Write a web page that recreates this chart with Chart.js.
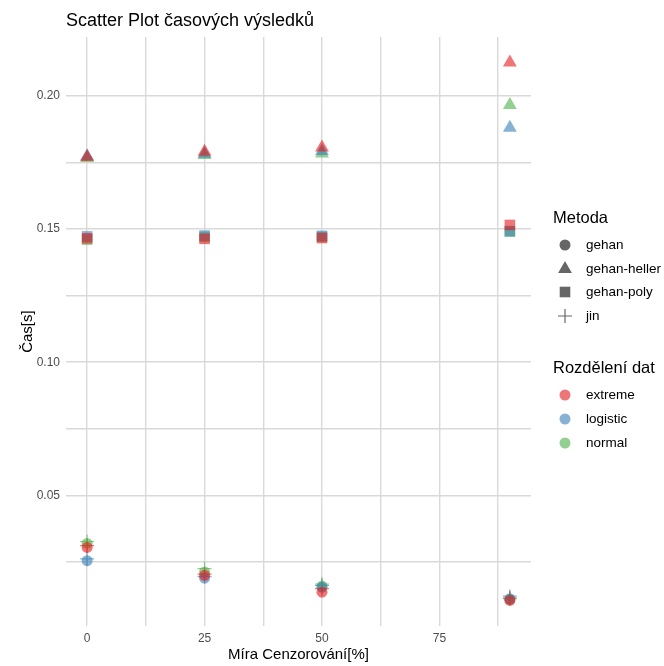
<!DOCTYPE html>
<html>
<head>
<meta charset="utf-8">
<title>Scatter Plot časových výsledků</title>
<script src="https://cdn.jsdelivr.net/npm/chart.js@4/dist/chart.umd.min.js"></script>
<style>
  html, body { margin: 0; padding: 0; background: #fff; }
  #wrap { width: 664px; height: 666px; }
</style>
</head>
<body>
<div id="wrap"><canvas id="scatterChart" width="664" height="666"></canvas></div>
<script>
// Míra cenzorování (%)
const censorLevels = [0, 25, 50, 90];

const methods = ['gehan', 'gehan-heller', 'gehan-poly', 'jin'];
const methodStyles = ['circle', 'triangle', 'rect', 'cross'];
const distributions = ['extreme', 'logistic', 'normal'];
const distColors = ['228, 26, 28', '55, 126, 184', '77, 175, 74'];

// časy [s] pro jednotlivé metody a rozdělení
const gehanExtreme = [0.0305, 0.0200, 0.0137, 0.0106];
const gehanLogistic = [0.0255, 0.0190, 0.0155, 0.0112];
const gehanNormal = [0.0320, 0.0213, 0.0160, 0.0110];

const hellerExtreme = [0.1770, 0.1790, 0.1806, 0.2125];
const hellerLogistic = [0.1773, 0.1782, 0.1793, 0.1880];
const hellerNormal = [0.1766, 0.1778, 0.1783, 0.1965];

const polyExtreme = [0.1465, 0.1463, 0.1466, 0.1515];
const polyLogistic = [0.1472, 0.1475, 0.1474, 0.1492];
const polyNormal = [0.1460, 0.1470, 0.1470, 0.1490];

const jinExtreme = [0.0312, 0.0205, 0.0150, 0.0115];
const jinLogistic = [0.0262, 0.0195, 0.0162, 0.0122];
const jinNormal = [0.0327, 0.0225, 0.0167, 0.0113];

// osy
const xBreaks = [0, 25, 50, 75];
const xLabels = ['0', '25', '50', '75'];
const xMinorBreaks = [12.5, 37.5, 62.5, 87.5];
const yBreaks = [0.05, 0.10, 0.15, 0.20];
const yLabels = ['0.05', '0.10', '0.15', '0.20'];
const yMinorBreaks = [0.025, 0.075, 0.125, 0.175];

const FONT = "'Liberation Sans', Arial, Helvetica, sans-serif";
const ALPHA = 0.6;

const seriesTable = [
    [gehanExtreme, gehanLogistic, gehanNormal],
    [hellerExtreme, hellerLogistic, hellerNormal],
    [polyExtreme, polyLogistic, polyNormal],
    [jinExtreme, jinLogistic, jinNormal]
];

const pointSizes = { circle: 5.5, triangle: 8, rect: 7.5, cross: 7 };

const datasets = [];
methods.forEach((m, mi) => {
    distributions.forEach((d, di) => {
        const style = methodStyles[mi];
        const col = `rgba(${distColors[di]}, ${ALPHA})`;
        const isCross = style === 'cross';
        datasets.push({
            label: m + ' / ' + d,
            data: censorLevels.map((x, i) => ({ x: x, y: seriesTable[mi][di][i] })),
            pointStyle: style,
            pointRadius: pointSizes[style],
            backgroundColor: isCross ? 'rgba(0,0,0,0)' : col,
            borderColor: col,
            borderWidth: isCross ? 1.2 : 0,
            showLine: false
        });
    });
});

// legenda vpravo (dvě skupiny jako v ggplot)
const legendPlugin = {
    id: 'ggLegend',
    afterDraw(chart) {
        const ctx = chart.ctx;
        const symX = 565;
        const textX = 586;
        ctx.save();
        ctx.textBaseline = 'middle';
        ctx.textAlign = 'left';

        ctx.fillStyle = '#000';
        ctx.font = `16.5px ${FONT}`;
        ctx.fillText('Metoda', 553, 218);

        const rowsA = [245, 269, 292, 316];
        const gray = 'rgba(0, 0, 0, 0.6)';
        methods.forEach((m, i) => {
            const y = rowsA[i];
            ctx.fillStyle = gray;
            ctx.strokeStyle = gray;
            const st = methodStyles[i];
            ctx.beginPath();
            if (st === 'circle') {
                ctx.arc(symX, y, 5.5, 0, Math.PI * 2);
                ctx.fill();
            } else if (st === 'triangle') {
                const r = 8;
                ctx.moveTo(symX, y - r);
                ctx.lineTo(symX + r * 0.866, y + r / 2);
                ctx.lineTo(symX - r * 0.866, y + r / 2);
                ctx.closePath();
                ctx.fill();
            } else if (st === 'rect') {
                ctx.rect(symX - 5.3, y - 5.3, 10.6, 10.6);
                ctx.fill();
            } else {
                ctx.lineWidth = 1.2;
                ctx.moveTo(symX - 7, y);
                ctx.lineTo(symX + 7, y);
                ctx.moveTo(symX, y - 7);
                ctx.lineTo(symX, y + 7);
                ctx.stroke();
            }
            ctx.fillStyle = '#000';
            ctx.font = `13.5px ${FONT}`;
            ctx.fillText(m, textX, y);
        });

        ctx.fillStyle = '#000';
        ctx.font = `16.5px ${FONT}`;
        ctx.fillText('Rozdělení dat', 553, 368);

        const rowsB = [395, 419, 443];
        distributions.forEach((d, i) => {
            const y = rowsB[i];
            ctx.fillStyle = `rgba(${distColors[i]}, ${ALPHA})`;
            ctx.beginPath();
            ctx.arc(symX, y, 5.5, 0, Math.PI * 2);
            ctx.fill();
            ctx.fillStyle = '#000';
            ctx.font = `13.5px ${FONT}`;
            ctx.fillText(d, textX, y);
        });
        ctx.restore();
    }
};

const gridColor = '#d9d9d9';

new Chart(document.getElementById('scatterChart'), {
    type: 'scatter',
    data: { datasets: datasets },
    options: {
        responsive: false,
        animation: false,
        events: [],
        layout: { padding: { left: 0, right: 133, top: 0, bottom: 0 } },
        plugins: {
            legend: { display: false },
            tooltip: { enabled: false },
            title: {
                display: true,
                text: 'Scatter Plot časových výsledků',
                align: 'start',
                fullSize: false,
                color: '#000',
                font: { family: FONT, size: 18, weight: 'normal' },
                padding: { top: 10, bottom: 5.5 }
            }
        },
        scales: {
            x: {
                type: 'linear',
                min: -4.5,
                max: 94.5,
                afterBuildTicks: scale => {
                    scale.ticks = xBreaks.concat(xMinorBreaks).sort((a, b) => a - b).map(v => ({ value: v }));
                },
                afterFit: scale => { scale.height = 40; },
                border: { display: false },
                grid: { color: gridColor, lineWidth: 1.4, drawTicks: false },
                ticks: {
                    autoSkip: false,
                    maxRotation: 0,
                    padding: 5,
                    color: '#4d4d4d',
                    font: { family: FONT, size: 12 },
                    callback: v => {
                        const i = xBreaks.indexOf(v);
                        return i >= 0 ? xLabels[i] : '';
                    }
                },
                title: {
                    display: true,
                    text: 'Míra Cenzorování[%]',
                    color: '#000',
                    font: { family: FONT, size: 15 },
                    padding: { top: 0, bottom: 2 }
                }
            },
            y: {
                type: 'linear',
                min: 0.001,
                max: 0.222,
                afterBuildTicks: scale => {
                    scale.ticks = yBreaks.concat(yMinorBreaks).sort((a, b) => a - b).map(v => ({ value: v }));
                },
                afterFit: scale => { scale.width = 66; },
                border: { display: false },
                grid: { color: gridColor, lineWidth: 1.4, drawTicks: false },
                ticks: {
                    autoSkip: false,
                    padding: 6,
                    color: '#4d4d4d',
                    font: { family: FONT, size: 12 },
                    callback: v => {
                        const i = yBreaks.findIndex(b => Math.abs(b - v) < 1e-9);
                        return i >= 0 ? yLabels[i] : '';
                    }
                },
                title: {
                    display: true,
                    text: 'Čas[s]',
                    color: '#000',
                    font: { family: FONT, size: 15 },
                    padding: { top: 19, bottom: 0 }
                }
            }
        }
    },
    plugins: [legendPlugin]
});
</script>
</body>
</html>
